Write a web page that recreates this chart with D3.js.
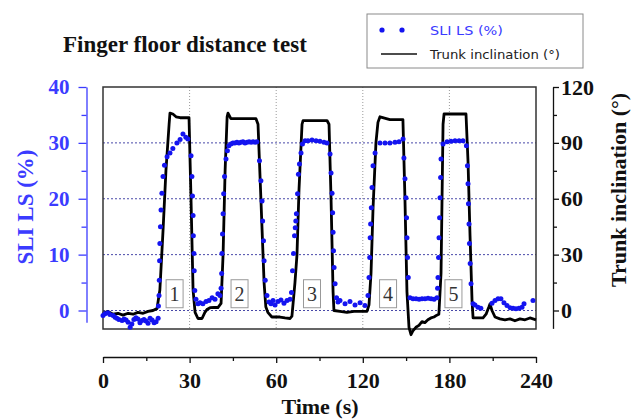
<!DOCTYPE html>
<html><head><meta charset="utf-8">
<script src="https://cdn.jsdelivr.net/npm/d3@7"></script>
<style>body{margin:0;background:#fff} svg{display:block}</style>
</head><body>
<svg id="c" width="640" height="419"></svg>
<script>
// ---------- data ----------
const chartTitle = "Finger floor distance test";
const xTitle = "Time (s)";
const leftTitle = "SLI LS (%)";
const rightTitle = "Trunk inclination (°)";
const legendLabels = ["SLI LS (%)", "Trunk inclination (°)"];

const timeTicks = [0, 30, 60, 120, 180, 240];
const timeMinorTicks = [15, 45, 90, 150, 210];
const sliTicks = [0, 10, 20, 30, 40];
const sliMinorTicks = [5, 15, 25, 35];
const trunkTicks = [0, 30, 60, 90, 120];
const trunkMinorTicks = [15, 45, 75, 105];

const repLabels = ["1", "2", "3", "4", "5"];
const repTimes = [24.8, 47.3, 84.8, 137.5, 182.8];

// [time (s), trunk inclination (deg)]
const trunkInclination = [
 [0,-1.5],[1.7,-0.5],[3.5,-2],[5.2,-1.5],[6.9,-2.5],[8.7,-1.5],[10.4,-2],[12.1,-1],[13.9,-1.5],[15.6,-0.5],[17.3,0],[18.7,1],
 [19.7,11],[20.8,43],[21.8,75],[22.9,100],[23.2,106],[24.2,105.5],[25.3,104],[26.7,103.5],[28.4,103.5],[29.8,103.5],
 [30.5,59],[31.2,11],[31.9,-1],[32.9,-4.3],[34.3,-4.3],[35.3,-1],[36,0.5],[37.1,1.5],[38.5,1.6],[39.8,1.6],[40.9,3.8],
 [41.6,30],[42.3,75],[43,104],[43.3,106],[44.3,103],[46.1,103],[47.8,103],[49.5,103],[51.3,103],[53,103],[53.7,100],
 [54.7,60],[55.8,15],[56.4,2],[57.1,-1],[58.5,-3.5],[59.9,-3.5],
 [62.6,-3.5],[66.1,-4],[69.6,-4.3],[70.9,-3],[73,15],[74.4,30],[75.8,65],[77.9,100],[78.6,102],[83.4,102],[89,102],[95.2,102],
 [96.6,100],[98,60],[99.4,10],[100,0],[104.2,-0.5],[109,-1],[113.9,-0.5],[119.4,-0.5],
 [122.9,-0.5],[124.3,3],[125.7,20],[127.1,55],[129.1,90],[130.5,101],[131.9,104],[138.8,102.5],[145.8,102.5],[147.8,102.5],
 [149.2,60],[150.6,10],[152,-9],[153.4,-13],[154.7,-11],[156.8,-9],[158.9,-8],[161,-6],[163,-6.5],[165.1,-5],[167.2,-4],
 [169.3,-3.5],[171.3,-2.5],[172.7,-2],[174.2,20],[174.9,60],[175.6,100],[176.3,105.5],[179.7,105.5],
 [183.9,105.5],[188,105.5],[191.5,105.5],[192.9,80],[194.3,40],[195.7,5],[196.4,-4],[199.8,-4],[203.3,-4],[205.4,-2],
 [207.4,2],[208.1,3.5],[209.5,0],[211.6,-3.5],[215,-4.5],[218.5,-5],[222,-4.5],[225.4,-5.5],[228.9,-4.5],[232.4,-5],
 [235.8,-4],[240,-5]
];

// [time (s), SLI LS (%)]
const sliLS = [
 [0,-0.9],[0.7,-0.6],[1.7,-0.4],[2.4,-0.7],[3.5,-0.9],[4.2,-1.2],[4.8,-1.4],[5.5,-1.6],[6.6,-1.8],[7.3,-1.5],[8,-1.7],
 [8.7,-2.1],[9.4,-3.0],[10,-2.4],[10.7,-1.6],[11.4,-1.3],[12.1,-1.5],[12.8,-2.2],[13.5,-1.8],[14.2,-1.6],[14.9,-1.9],
 [15.6,-2.3],[16.3,-1.4],[17,-1.7],[17.7,-2.2],[18.4,-2.0],[19.1,-1.4],
 [19.2,0.8],[19.4,2.7],[19.5,5.4],[19.6,8.9],[19.7,12],[19.9,15],[20.1,18],[20.4,21],[20.8,24],[21.3,26],[22.2,27.5],
 [23.2,28.2],[24.2,29],[25.6,30],[26.7,30.6],[27.7,31.6],[28.7,31],[29.4,30.7],
 [30.5,27.7],[30.8,24],[31,20.5],[31.2,17],[31.3,13.4],[31.5,10.2],[31.6,7.1],[31.8,3.6],[32.2,2.0],[32.9,1.2],
 [33.6,1.4],[34.6,1.2],[35.7,1.6],[36.7,1.8],[37.8,2.3],[38.8,2.0],[39.8,3.0],[40.5,2.7],
 [40.9,4.0],[41.1,6.6],[41.2,10.2],[41.4,13.7],[41.6,17.3],[41.8,20.9],[42.1,24],[42.6,27.1],[43.1,28.6],[43.6,29.5],
 [44.3,29.8],[45,30],[45.7,30],[46.4,30.1],[47.1,30],[47.8,30.1],[48.5,30.2],[49.2,30],[49.9,30.1],[50.6,30.2],
 [51.3,30.1],[52,30.2],[52.7,30.1],[53.3,30.2],
 [54.2,26.8],[54.7,23.2],[55.1,19.6],[55.3,16],[55.6,12.5],[55.8,8.9],[56.2,5.4],[56.8,2.7],[57.5,1.5],
 [58.2,1.2],[58.9,1.8],[59.6,1.0],[61.2,1.6],[63.3,1.9],[65.4,1.3],[67.5,1.8],[69.6,2.0],
 [70.6,3.2],[71.3,7.1],[72,10.2],[72.7,13.4],[73.2,14.8],[73.6,16],[74,17.3],[74.8,20.9],[75.4,24.4],[76.1,26.2],
 [77.2,28.2],[78.2,29.8],[80,30.4],
 [82,30.4],[84.8,30.5],[87.6,30.4],[90.3,30.3],[93.1,30.1],[95.2,30.0],
 [97.3,28],[98,24.6],[98.7,21],[99.1,17.5],[99.4,14],[99.7,10.7],[100.1,7.7],[100.8,4.8],[101.8,2.3],
 [102.8,1.5],[104.2,1.8],[107.7,1.2],[111.1,1.6],[114.6,1.0],[118.1,1.4],[121.5,0.9],
 [123.6,2.7],[124.3,5.9],[124.8,9.5],[125.1,13],[125.4,15.5],[125.9,18.4],[126.4,22],[127.1,25.9],[128.5,28.2],
 [131.9,30],[135.4,30],[138.8,30],[142.3,30.1],[145.1,30.2],[147.9,30.7],
 [148.5,27.3],[149.2,23.6],[149.9,20.2],[150.3,16.6],[150.6,13],[151,9.5],[151.5,5.9],[152.7,2.3],
 [154.8,2.1],[156.9,2.1],[159,2.0],[161,2.1],[163.1,2.1],[165.2,2.2],[167.3,2.1],[169.4,2.0],[171.4,2.3],
 [171.8,4],[172.1,5.9],[172.5,9.5],[172.8,13],[173.2,16.6],[173.5,20.2],[173.9,23.8],[174.2,27.1],[175.6,29.8],[178.4,30.2],
 [181.1,30.3],[183.9,30.4],[186.7,30.4],[189.4,30.4],[191.8,29.5],
 [192.5,25.9],[192.9,22.7],[193.2,19.1],[193.6,15.5],[193.9,12],[194.4,8.4],[195,4.8],[196.4,1.2],
 [197.7,1.0],[199.8,0.6],[201.8,0.4],[209.5,1.3],[211.6,1.8],[213.7,2.1],[215.7,2.1],[217.8,1.4],[219.9,0.9],
 [222,0.5],[224.1,0.4],[226.1,0.3],[228.2,0.4],[230.3,0.6],[231.7,1.2],[237.9,1.8]
];

// ---------- layout ----------
const svg = d3.select("#c");
const L = 103, R = 536, T = 87, B = 329;
const BLUE = "#1414f0", AXBLUE = "#3b3bff";
const serif = "'Liberation Serif','Times New Roman',serif";

const x = d3.scaleLinear().domain(timeTicks)
  .range(timeTicks.map((d, i) => L + i * (R - L) / (timeTicks.length - 1)));
const yL = d3.scaleLinear().domain([0, 40]).range([310.5, T]);
const yR = d3.scaleLinear().domain([0, 120]).range([310.5, T]);

// grid
svg.append("g").selectAll("line").data(sliTicks.filter(d => d < 40)).join("line")
  .attr("x1", L).attr("x2", R).attr("y1", d => yL(d)).attr("y2", d => yL(d))
  .attr("stroke", "#4848a8").attr("stroke-width", 1).attr("stroke-dasharray", "2,2");
svg.append("g").selectAll("line").data(timeTicks.slice(1, -1)).join("line")
  .attr("x1", d => x(d)).attr("x2", d => x(d)).attr("y1", T).attr("y2", B)
  .attr("stroke", "#9a9a9a").attr("stroke-width", 1).attr("stroke-dasharray", "1,2");

// plot frame
svg.append("rect").attr("x", L).attr("y", T).attr("width", R - L).attr("height", B - T)
  .attr("fill", "none").attr("stroke", "#333").attr("stroke-width", 1.5);

// trunk line
svg.append("path").datum(trunkInclination)
  .attr("d", d3.line().x(d => x(d[0])).y(d => yR(d[1])))
  .attr("fill", "none").attr("stroke", "#000").attr("stroke-width", 2.8).attr("stroke-linejoin", "round");

// SLI dots
svg.append("g").selectAll("circle").data(sliLS).join("circle")
  .attr("cx", d => x(d[0])).attr("cy", d => yL(d[1])).attr("r", 2.5).attr("fill", BLUE);

// repetition boxes
const reps = svg.append("g").selectAll("g").data(repTimes).join("g")
  .attr("transform", d => `translate(${x(d)},${yL(3)})`);
reps.append("rect").attr("x", -8.5).attr("y", -14).attr("width", 17).attr("height", 28)
  .attr("fill", "#fff").attr("stroke", "#999").attr("stroke-width", 1);
reps.append("text").text((d, i) => repLabels[i]).attr("text-anchor", "middle").attr("y", 7)
  .attr("font-family", serif).attr("font-size", 20).attr("fill", "#333");

// axes
function styleAxis(g, color, size) {
  g.selectAll("path.domain").attr("stroke", color).attr("stroke-width", 1.3);
  g.selectAll(".tick line").attr("stroke", color).attr("stroke-width", 1.3);
  g.selectAll(".tick text").attr("fill", color).attr("font-family", serif)
    .attr("font-weight", "bold").attr("font-size", size);
}
// left
const yLa = d3.scaleLinear().domain([-2.1, 40]).range([yL(-2.1), yL(40)]);
const gL = svg.append("g").attr("transform", "translate(86.5,0)")
  .call(d3.axisLeft(yLa).tickValues(sliTicks).tickSize(8).tickSizeOuter(0).tickPadding(9).tickFormat(d3.format("d")));
styleAxis(gL, AXBLUE, 21);
const gLm = svg.append("g").attr("transform", "translate(86.5,0)")
  .call(d3.axisLeft(yL).tickValues(sliMinorTicks).tickSize(5).tickFormat(""));
gLm.select("path.domain").remove(); styleAxis(gLm, AXBLUE, 21);

// right
const yRa = d3.scaleLinear().domain([-9.6, 120]).range([yR(-9.6), yR(120)]);
const gR = svg.append("g").attr("transform", "translate(553,0)")
  .call(d3.axisRight(yRa).tickValues(trunkTicks).tickSize(6).tickSizeOuter(0).tickPadding(2).tickFormat(d3.format("d")));
styleAxis(gR, "#111", 22);
const gRm = svg.append("g").attr("transform", "translate(553,0)")
  .call(d3.axisRight(yR).tickValues(trunkMinorTicks).tickSize(4).tickFormat(""));
gRm.select("path.domain").remove(); styleAxis(gRm, "#111", 22);

// bottom
const gB = svg.append("g").attr("transform", "translate(0,357)")
  .call(d3.axisBottom(x).tickValues(timeTicks).tickSize(6).tickSizeOuter(0).tickPadding(9).tickFormat(d3.format("d")));
styleAxis(gB, "#111", 22);
const gBm = svg.append("g").attr("transform", "translate(0,357)")
  .call(d3.axisBottom(x).tickValues(timeMinorTicks).tickSize(4).tickFormat(""));
gBm.select("path.domain").remove(); styleAxis(gBm, "#111", 22);

// titles
svg.append("text").text(chartTitle).attr("x", 63).attr("y", 52)
  .attr("font-family", serif).attr("font-weight", "bold").attr("font-size", 23).attr("fill", "#111");
svg.append("text").text(xTitle).attr("x", 320).attr("y", 414).attr("text-anchor", "middle")
  .attr("font-family", serif).attr("font-weight", "bold").attr("font-size", 22).attr("fill", "#111");
svg.append("text").text(leftTitle).attr("transform", "translate(33,207) rotate(-90)").attr("text-anchor", "middle")
  .attr("font-family", serif).attr("font-weight", "bold").attr("font-size", 23).attr("fill", AXBLUE);
svg.append("text").text(rightTitle).attr("transform", "translate(626,190) rotate(-90)").attr("text-anchor", "middle")
  .attr("font-family", serif).attr("font-weight", "bold").attr("font-size", 22).attr("fill", "#111");

// legend
const lg = svg.append("g");
lg.append("rect").attr("x", 367).attr("y", 14).attr("width", 216).attr("height", 54)
  .attr("fill", "#fff").attr("stroke", "#8a8a8a").attr("stroke-width", 1);
lg.selectAll("circle").data([382, 402]).join("circle")
  .attr("cx", d => d).attr("cy", 30).attr("r", 2.6).attr("fill", BLUE);
lg.append("line").attr("x1", 381).attr("x2", 417).attr("y1", 54).attr("y2", 54)
  .attr("stroke", "#111").attr("stroke-width", 1.6);
lg.append("text").text(legendLabels[0]).attr("x", 430).attr("y", 35)
  .attr("font-family", "'DejaVu Sans',sans-serif").attr("font-size", 13).attr("fill", AXBLUE)
  .attr("textLength", 73).attr("lengthAdjust", "spacingAndGlyphs");
lg.append("text").text(legendLabels[1]).attr("x", 430).attr("y", 59)
  .attr("font-family", "'DejaVu Sans',sans-serif").attr("font-size", 13).attr("fill", "#222")
  .attr("textLength", 130).attr("lengthAdjust", "spacingAndGlyphs");
</script>
</body></html>
